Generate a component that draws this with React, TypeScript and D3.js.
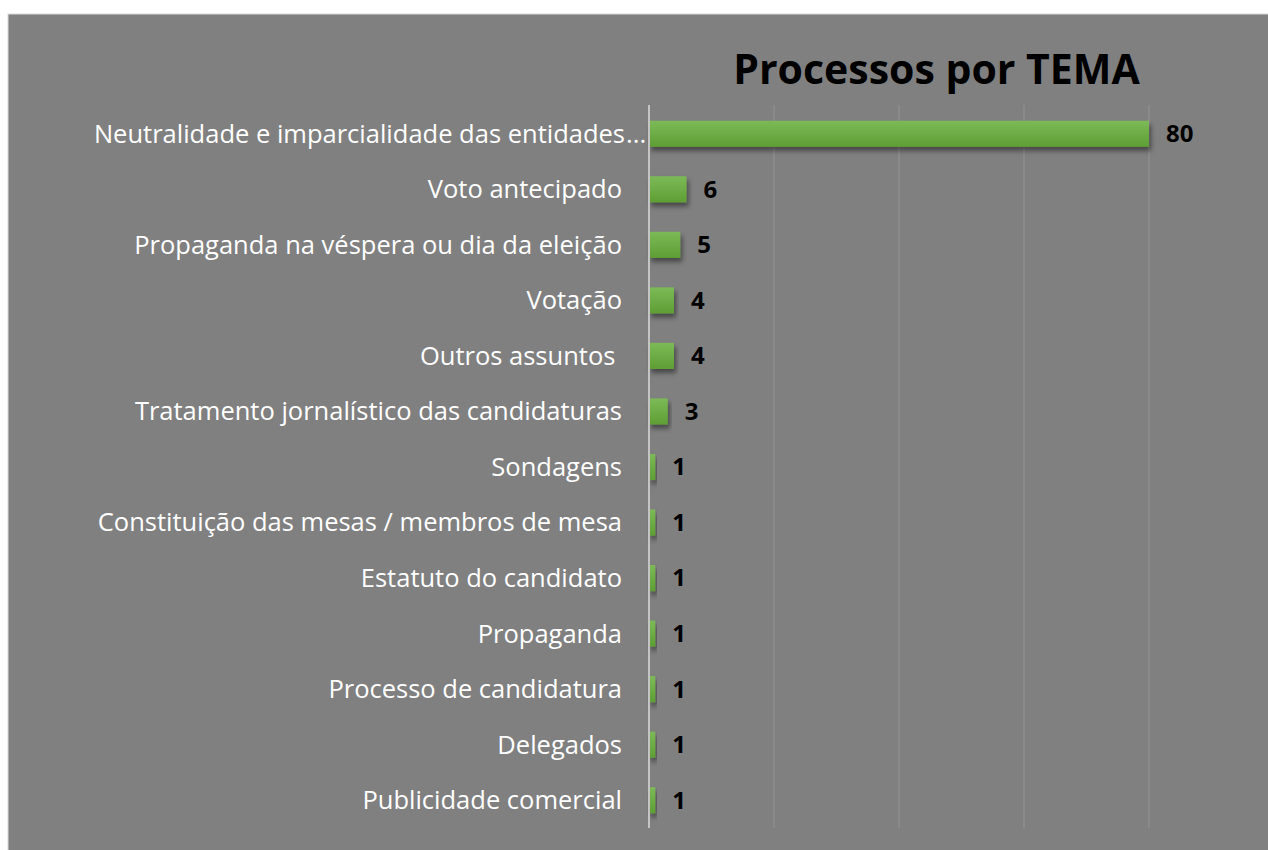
import React, { useEffect, useRef } from 'react';
import * as d3 from 'd3';

const categories = [
  'Neutralidade e imparcialidade das entidades...',
  'Voto antecipado',
  'Propaganda na véspera ou dia da eleição',
  'Votação',
  'Outros assuntos ',
  'Tratamento jornalístico das candidaturas',
  'Sondagens',
  'Constituição das mesas / membros de mesa',
  'Estatuto do candidato',
  'Propaganda',
  'Processo de candidatura',
  'Delegados',
  'Publicidade comercial',
];
const values = [80, 6, 5, 4, 4, 3, 1, 1, 1, 1, 1, 1, 1];
const xTicks = [0, 20, 40, 60, 80];
const title = 'Processos por TEMA';

const W = 1268;
const H = 850;
const FONT = '"Open Sans", "DejaVu Sans", sans-serif';

export default function App() {
  const ref = useRef<SVGSVGElement>(null);

  useEffect(() => {
    const svg = d3.select(ref.current);
    svg.selectAll('*').remove();

    const defs = svg.append('defs');
    const grad = defs.append('linearGradient')
      .attr('id', 'barGrad').attr('x1', 0).attr('y1', 0).attr('x2', 0).attr('y2', 1);
    grad.append('stop').attr('offset', '0%').attr('stop-color', '#7cba57');
    grad.append('stop').attr('offset', '100%').attr('stop-color', '#5e9e34');
    const filt = defs.append('filter').attr('id', 'shadow')
      .attr('x', '-20%').attr('y', '-30%').attr('width', '140%').attr('height', '180%');
    filt.append('feDropShadow')
      .attr('dx', 2).attr('dy', 4).attr('stdDeviation', 2.5)
      .attr('flood-color', '#000').attr('flood-opacity', 0.45);

    // background panel (runs off the right and bottom edges)
    svg.append('rect')
      .attr('x', 8).attr('y', 14).attr('width', W).attr('height', H)
      .attr('fill', '#808080').attr('stroke', '#d9d9d9').attr('stroke-width', 1);

    var x = d3.scaleLinear().domain([0, 80]).range([649, 1149]);
    var y = d3.scaleBand<string>().domain(categories).range([106, 828])
      .paddingInner(0.53).paddingOuter(0.265);

    // gridlines
    svg.append('g').selectAll('line').data(xTicks.slice(1)).enter().append('line')
      .attr('x1', d => x(d)).attr('x2', d => x(d))
      .attr('y1', 105).attr('y2', 828)
      .attr('stroke', '#8e8e8e').attr('stroke-width', 1.5);

    // bars
    svg.append('g').selectAll('rect').data(values).enter().append('rect')
      .attr('x', x(0))
      .attr('y', (d, i) => y(categories[i]) as number)
      .attr('width', d => x(d) - x(0))
      .attr('height', y.bandwidth())
      .attr('fill', 'url(#barGrad)')
      .attr('filter', 'url(#shadow)');

    // axis line
    svg.append('line')
      .attr('x1', x(0)).attr('x2', x(0)).attr('y1', 105).attr('y2', 828)
      .attr('stroke', '#c4c4c4').attr('stroke-width', 2);

    // category labels
    const lab = svg.append('g')
      .attr('font-family', FONT).attr('font-size', 25.5).attr('fill', '#ffffff');
    categories.forEach((c, i) => {
      const cy = (y(c) as number) + y.bandwidth() / 2;
      if (c.endsWith('...')) {
        lab.append('text').attr('x', 625).attr('y', cy).attr('dy', '0.35em')
          .attr('text-anchor', 'end').text(c.slice(0, -3));
        lab.append('text').attr('x', 626).attr('y', cy).attr('dy', '0.35em')
          .attr('text-anchor', 'start').text('...');
      } else {
        lab.append('text').attr('x', 622).attr('y', cy).attr('dy', '0.35em')
          .attr('text-anchor', 'end').attr('xml:space', 'preserve').style('white-space', 'pre').text(c);
      }
    });

    // value labels
    svg.append('g').selectAll('text').data(values).enter().append('text')
      .attr('x', d => x(d) + 17)
      .attr('y', (d, i) => (y(categories[i]) as number) + y.bandwidth() / 2)
      .attr('dy', '0.35em')
      .attr('font-family', FONT).attr('font-size', 24).attr('font-weight', 'bold')
      .attr('fill', '#000')
      .text(d => d);

    // title
    svg.append('text')
      .attr('x', 936.5).attr('y', 84)
      .attr('text-anchor', 'middle')
      .attr('font-family', FONT).attr('font-size', 41).attr('font-weight', 'bold')
      .attr('fill', '#000')
      .text(title);
  }, []);

  return (
    <svg ref={ref} width={W} height={H}
      style={{ position: 'absolute', left: 0, top: 0, display: 'block', background: '#fff' }} />
  );
}
